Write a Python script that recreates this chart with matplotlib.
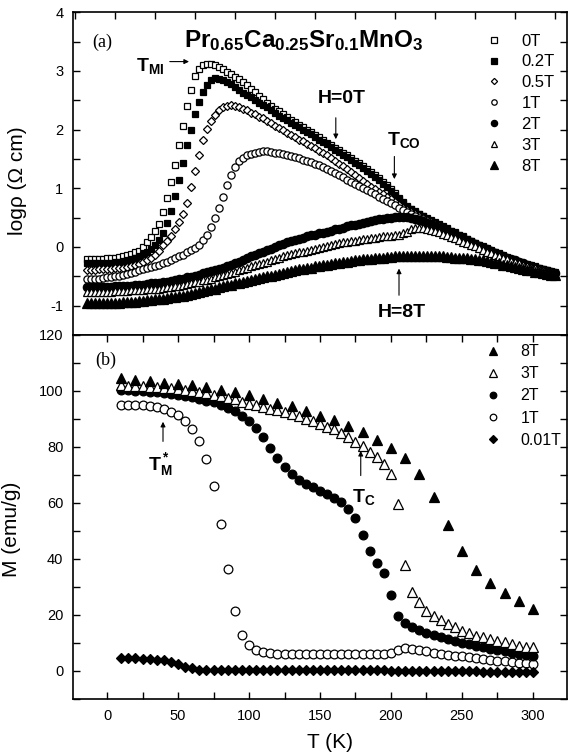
import numpy as np
import matplotlib
matplotlib.use('Agg')
import matplotlib.pyplot as plt
from matplotlib.ticker import MultipleLocator

plt.rcParams['font.family'] = ['Liberation Sans', 'DejaVu Sans']
plt.rcParams['mathtext.fontset'] = 'custom'
plt.rcParams['mathtext.rm'] = 'Liberation Sans'
plt.rcParams['mathtext.bf'] = 'Liberation Sans:bold'
plt.rcParams['mathtext.it'] = 'Liberation Sans:italic'
plt.rcParams['axes.unicode_minus'] = False

# ---- (a) resistivity, log rho vs T, sampled every 2.5 K from 7.5 K ----
t_top = np.arange(7.5, 300.1, 2.5)
r_0T = [-0.20, -0.20, -0.20, -0.20, -0.20, -0.19, -0.19, -0.18, -0.17, -0.16,
        -0.14, -0.12, -0.09, -0.06, 0.00, 0.09, 0.17, 0.27, 0.39, 0.59,
        0.83, 1.10, 1.40, 1.74, 2.07, 2.40, 2.68, 2.91, 3.04, 3.10,
        3.12, 3.12, 3.10, 3.06, 3.03, 2.99, 2.95, 2.90, 2.86, 2.81,
        2.76, 2.70, 2.64, 2.58, 2.52, 2.46, 2.41, 2.36, 2.31, 2.26,
        2.22, 2.17, 2.13, 2.08, 2.04, 2.00, 1.96, 1.91, 1.87, 1.82,
        1.78, 1.73, 1.69, 1.65, 1.60, 1.56, 1.52, 1.47, 1.43, 1.38,
        1.33, 1.28, 1.23, 1.17, 1.11, 1.05, 0.99, 0.92, 0.84, 0.77,
        0.70, 0.65, 0.61, 0.57, 0.53, 0.49, 0.46, 0.42, 0.39, 0.35,
        0.32, 0.28, 0.25, 0.21, 0.18, 0.14, 0.11, 0.07, 0.04, 0.01,
        -0.02, -0.05, -0.08, -0.11, -0.14, -0.17, -0.20, -0.22, -0.25, -0.27,
        -0.29, -0.31, -0.33, -0.35, -0.37, -0.39, -0.41, -0.43]
r_02T = [-0.28, -0.28, -0.28, -0.28, -0.28, -0.27, -0.27, -0.26, -0.25, -0.24,
         -0.23, -0.21, -0.19, -0.16, -0.12, -0.08, -0.03, 0.03, 0.12, 0.24,
         0.41, 0.62, 0.87, 1.15, 1.44, 1.73, 2.00, 2.26, 2.47, 2.64,
         2.76, 2.84, 2.88, 2.87, 2.84, 2.81, 2.77, 2.72, 2.68, 2.63,
         2.59, 2.55, 2.51, 2.46, 2.42, 2.38, 2.33, 2.29, 2.24, 2.20,
         2.16, 2.12, 2.08, 2.04, 2.00, 1.96, 1.92, 1.87, 1.83, 1.79,
         1.75, 1.70, 1.66, 1.62, 1.57, 1.53, 1.49, 1.44, 1.40, 1.35,
         1.30, 1.25, 1.20, 1.14, 1.08, 1.02, 0.96, 0.89, 0.82, 0.75,
         0.69, 0.64, 0.60, 0.56, 0.52, 0.48, 0.45, 0.41, 0.38, 0.34,
         0.31, 0.27, 0.24, 0.20, 0.17, 0.13, 0.10, 0.06, 0.03, 0.00,
         -0.03, -0.06, -0.09, -0.12, -0.15, -0.18, -0.21, -0.23, -0.26, -0.28,
         -0.30, -0.32, -0.34, -0.36, -0.38, -0.40, -0.42, -0.44]
r_05T = [-0.39, -0.39, -0.39, -0.38, -0.38, -0.37, -0.37, -0.36, -0.36, -0.35,
         -0.34, -0.32, -0.31, -0.29, -0.26, -0.22, -0.18, -0.13, -0.06, 0.03,
         0.10, 0.19, 0.30, 0.42, 0.57, 0.75, 1.02, 1.29, 1.57, 1.82,
         2.01, 2.15, 2.25, 2.33, 2.38, 2.41, 2.42, 2.41, 2.39, 2.36,
         2.33, 2.29, 2.26, 2.22, 2.19, 2.15, 2.11, 2.07, 2.03, 1.99,
         1.95, 1.91, 1.87, 1.83, 1.80, 1.76, 1.72, 1.68, 1.64, 1.60,
         1.56, 1.51, 1.47, 1.42, 1.38, 1.33, 1.28, 1.23, 1.18, 1.13,
         1.08, 1.03, 0.99, 0.94, 0.90, 0.85, 0.81, 0.76, 0.72, 0.67,
         0.63, 0.60, 0.57, 0.53, 0.50, 0.46, 0.43, 0.39, 0.36, 0.32,
         0.29, 0.25, 0.22, 0.18, 0.15, 0.11, 0.08, 0.05, 0.02, -0.01,
         -0.04, -0.07, -0.10, -0.13, -0.16, -0.19, -0.22, -0.24, -0.27, -0.29,
         -0.31, -0.33, -0.35, -0.37, -0.39, -0.41, -0.43, -0.44]
r_1T = [-0.55, -0.55, -0.55, -0.54, -0.53, -0.52, -0.51, -0.50, -0.49, -0.47,
        -0.46, -0.44, -0.42, -0.40, -0.38, -0.36, -0.34, -0.32, -0.30, -0.27,
        -0.25, -0.22, -0.19, -0.16, -0.13, -0.09, -0.05, -0.01, 0.04, 0.12,
        0.21, 0.34, 0.50, 0.67, 0.86, 1.06, 1.23, 1.37, 1.46, 1.52,
        1.56, 1.59, 1.61, 1.62, 1.63, 1.63, 1.62, 1.61, 1.60, 1.58,
        1.57, 1.55, 1.53, 1.51, 1.49, 1.47, 1.45, 1.42, 1.39, 1.36,
        1.33, 1.29, 1.26, 1.22, 1.19, 1.15, 1.11, 1.07, 1.04, 1.00,
        0.97, 0.93, 0.90, 0.86, 0.82, 0.78, 0.75, 0.71, 0.67, 0.63,
        0.60, 0.56, 0.53, 0.50, 0.47, 0.44, 0.40, 0.37, 0.34, 0.30,
        0.27, 0.24, 0.21, 0.17, 0.14, 0.11, 0.08, 0.04, 0.01, -0.02,
        -0.05, -0.08, -0.11, -0.14, -0.17, -0.19, -0.22, -0.24, -0.27, -0.29,
        -0.32, -0.34, -0.36, -0.38, -0.40, -0.41, -0.43, -0.45]
r_2T = [-0.69, -0.69, -0.69, -0.69, -0.69, -0.68, -0.68, -0.67, -0.67, -0.67,
        -0.66, -0.66, -0.65, -0.65, -0.64, -0.63, -0.62, -0.62, -0.61, -0.60,
        -0.59, -0.58, -0.57, -0.55, -0.54, -0.52, -0.51, -0.49, -0.47, -0.45,
        -0.43, -0.41, -0.39, -0.37, -0.35, -0.32, -0.30, -0.27, -0.25, -0.22,
        -0.19, -0.16, -0.13, -0.10, -0.08, -0.05, -0.03, 0.00, 0.03, 0.05,
        0.08, 0.10, 0.12, 0.14, 0.16, 0.18, 0.20, 0.21, 0.23, 0.24,
        0.26, 0.28, 0.30, 0.31, 0.33, 0.35, 0.37, 0.38, 0.40, 0.41,
        0.43, 0.44, 0.46, 0.47, 0.48, 0.49, 0.50, 0.51, 0.51, 0.51,
        0.51, 0.50, 0.48, 0.46, 0.44, 0.41, 0.39, 0.36, 0.33, 0.30,
        0.27, 0.24, 0.21, 0.17, 0.14, 0.11, 0.08, 0.05, 0.02, -0.01,
        -0.04, -0.07, -0.10, -0.13, -0.16, -0.18, -0.21, -0.23, -0.26, -0.28,
        -0.31, -0.33, -0.35, -0.37, -0.39, -0.41, -0.43, -0.45]
r_3T = [-0.76, -0.76, -0.76, -0.76, -0.76, -0.76, -0.76, -0.75, -0.75, -0.75,
        -0.75, -0.74, -0.74, -0.73, -0.73, -0.72, -0.72, -0.71, -0.71, -0.70,
        -0.69, -0.68, -0.67, -0.66, -0.65, -0.63, -0.62, -0.60, -0.59, -0.57,
        -0.56, -0.54, -0.52, -0.50, -0.48, -0.46, -0.44, -0.42, -0.40, -0.38,
        -0.36, -0.33, -0.31, -0.29, -0.27, -0.25, -0.22, -0.20, -0.18, -0.16,
        -0.14, -0.12, -0.11, -0.09, -0.08, -0.06, -0.05, -0.03, -0.02, 0.00,
        0.02, 0.03, 0.05, 0.06, 0.08, 0.09, 0.10, 0.11, 0.12, 0.13,
        0.14, 0.15, 0.16, 0.17, 0.18, 0.18, 0.19, 0.20, 0.21, 0.23,
        0.26, 0.30, 0.32, 0.33, 0.33, 0.31, 0.29, 0.27, 0.25, 0.22,
        0.20, 0.17, 0.15, 0.12, 0.09, 0.06, 0.04, 0.01, -0.02, -0.05,
        -0.08, -0.10, -0.13, -0.16, -0.19, -0.21, -0.24, -0.26, -0.28, -0.30,
        -0.32, -0.34, -0.36, -0.38, -0.40, -0.42, -0.44, -0.46]
r_8T = [-0.96, -0.96, -0.96, -0.96, -0.96, -0.95, -0.95, -0.95, -0.95, -0.94,
        -0.94, -0.93, -0.93, -0.92, -0.92, -0.91, -0.90, -0.89, -0.89, -0.88,
        -0.87, -0.86, -0.85, -0.84, -0.83, -0.81, -0.80, -0.78, -0.77, -0.75,
        -0.74, -0.72, -0.71, -0.69, -0.67, -0.65, -0.64, -0.62, -0.61, -0.59,
        -0.58, -0.56, -0.55, -0.53, -0.52, -0.50, -0.49, -0.47, -0.46, -0.44,
        -0.43, -0.41, -0.40, -0.38, -0.37, -0.36, -0.35, -0.33, -0.32, -0.31,
        -0.30, -0.29, -0.28, -0.27, -0.26, -0.25, -0.24, -0.23, -0.22, -0.21,
        -0.21, -0.20, -0.19, -0.18, -0.18, -0.17, -0.17, -0.16, -0.16, -0.155,
        -0.15, -0.15, -0.15, -0.15, -0.15, -0.15, -0.15, -0.155, -0.16, -0.16,
        -0.17, -0.17, -0.18, -0.18, -0.19, -0.19, -0.20, -0.21, -0.22, -0.23,
        -0.24, -0.25, -0.27, -0.28, -0.30, -0.31, -0.33, -0.34, -0.36, -0.37,
        -0.39, -0.40, -0.42, -0.43, -0.45, -0.46, -0.47, -0.48]

# ---- (b) magnetization vs T ----
t_8T = np.arange(10, 301, 10)
m_8T = [104.5, 104, 103.5, 103, 102.5, 102, 101.3, 100.5, 99.5, 98.5, 97.3, 95.8, 94.5, 93, 91.2,
        89.5, 87.5, 85.5, 82.5, 79.5, 76, 70.5, 62, 52, 43, 36, 31.5, 28, 25, 22]
t_m = np.arange(10, 301, 5)
m_3T = [102, 101.9, 101.8, 101.7, 101.6, 101.4, 101.2, 101, 100.7, 100.4, 100, 99.6, 99.2, 98.7,
        98.2, 97.6, 97, 96.2, 95.5, 94.9, 94.3, 93.7, 93.1, 92.4, 91.7, 90.9, 90, 89.2, 88.3, 87.3,
        86.3, 85.1, 83.6, 81.9, 80.3, 78.3, 76.4, 74, 70.5, 59.5, 37.7, 28.2, 24.6, 21.6, 19.8,
        18.2, 16.8, 15.6, 14.4, 13.5, 12.6, 12, 11.3, 10.8, 10.2, 9.6, 9.1, 8.7, 8.4]
m_2T = [100.5, 100.3, 100.1, 99.9, 99.7, 99.5, 99.2, 98.9, 98.6, 98.2, 97.8, 97.2, 96.6, 95.9, 95,
        94, 92.8, 91.2, 89.2, 86.8, 83.5, 79.5, 76, 72.8, 70.2, 68.2, 66.8, 65.6, 64.4, 63.2, 61.9,
        60.2, 58, 54.6, 48.5, 43, 38.5, 35, 27, 19.8, 17, 15.6, 14.6, 13.7, 12.9, 12.1, 11.4, 10.7,
        10.1, 9.5, 8.9, 8.4, 7.9, 7.4, 7, 6.6, 6.2, 5.8, 5.5]
m_1T = [95, 95, 95, 94.9, 94.7, 94.3, 93.7, 92.6, 91.3, 89.3, 86.6, 82.2, 75.8, 66, 52.4, 36.3,
        21.3, 12.8, 9.3, 7.5, 6.7, 6.4, 6.2, 6.1, 6, 6, 6, 6, 6, 6, 6, 6, 6, 6, 6, 6, 6, 6.1, 6.5,
        7.6, 8.3, 8, 7.5, 7, 6.6, 6.2, 5.8, 5.5, 5.2, 4.9, 4.6, 4.3, 4, 3.7, 3.4, 3.2, 3, 2.8, 2.6]
m_001T = [4.5, 4.5, 4.5, 4.4, 4.3, 4.1, 3.8, 3.2, 2.5, 1.5, 0.9, 0.5, 0.3, 0.2, 0.2, 0.2, 0.2, 0.2,
          0.2, 0.2, 0.2, 0.2, 0.2, 0.2, 0.2, 0.2, 0.2, 0.2, 0.2, 0.2, 0.2, 0.2, 0.2, 0.2, 0.2, 0.2,
          0.2, 0.2, 0.1, 0.1, 0.1, 0.1, 0.0, 0.0, 0.0, 0.0, 0.0, -0.1, -0.1, -0.1, -0.1, -0.2,
          -0.2, -0.2, -0.2, -0.3, -0.3, -0.3, -0.3]

fig = plt.figure(figsize=(5.69, 7.55), dpi=100)
ax1 = fig.add_axes([0.1283, 0.5563, 0.8682, 0.4274])
ax2 = fig.add_axes([0.1283, 0.0742, 0.8682, 0.4821])

mew = 0.9
ax1.plot(t_top, r_0T, 's', ms=5, mfc='white', mec='k', mew=mew, label='0T')
ax1.plot(t_top, r_02T, 's', ms=5, mfc='k', mec='k', mew=mew, label='0.2T')
ax1.plot(t_top, r_05T, 'D', ms=4.2, mfc='white', mec='k', mew=mew, label='0.5T')
ax1.plot(t_top, r_1T, 'o', ms=5.2, mfc='white', mec='k', mew=mew, label='1T')
ax1.plot(t_top, r_2T, 'o', ms=6, mfc='k', mec='k', mew=mew, label='2T')
ax1.plot(t_top, r_3T, '^', ms=6, mfc='white', mec='k', mew=mew, label='3T')
ax1.plot(t_top, r_8T, '^', ms=7, mfc='k', mec='k', mew=mew, label='8T')

ax1.set_xlim(-1.25, 307.5)
ax1.set_ylim(-1.5, 4)
ax1.xaxis.set_major_locator(MultipleLocator(50))
ax1.xaxis.set_minor_locator(MultipleLocator(25))
ax1.yaxis.set_major_locator(MultipleLocator(1))
ax1.yaxis.set_minor_locator(MultipleLocator(0.5))
ax1.tick_params(which='both', direction='in', top=True, bottom=False, right=True,
                labelbottom=False, labelsize=10.5, pad=7, length=5, width=1)
ax1.set_ylabel('log\u03c1 (\u03a9 cm)', fontsize=15)
ax1.yaxis.set_label_coords(-0.093, 0.479)
ax1.legend(loc='upper left', bbox_to_anchor=(0.835, 0.934), frameon=False, fontsize=12,
           handlelength=1.0, handletextpad=1.15, labelspacing=0.35, borderpad=0,
           borderaxespad=0, markerscale=0.75)

arrow = dict(arrowstyle='-|>', lw=0.8, color='k', mutation_scale=7)
ax1.text(10.6, 3.49, '(a)', family='Liberation Serif', fontsize=13, va='center')
ax1.text(143, 3.52, r'$\mathbf{Pr_{0.65}Ca_{0.25}Sr_{0.1}MnO_3}$', fontsize=17.5,
         ha='center', va='center')
ax1.annotate('', xy=(73, 3.16), xytext=(57.5, 3.16), arrowprops=arrow)
ax1.text(38, 3.08, r'$\mathbf{T_{MI}}$', fontsize=14, va='center')
ax1.annotate('', xy=(163, 1.79), xytext=(163, 2.25), arrowprops=arrow)
ax1.text(167, 2.53, 'H=0T', fontsize=14, fontweight='bold', ha='center', va='center')
ax1.annotate('', xy=(199.6, 1.11), xytext=(199.6, 1.59), arrowprops=arrow)
ax1.text(195, 1.82, r'$\mathbf{T_{CO}}$', fontsize=14, va='center')
ax1.annotate('', xy=(202.5, -0.32), xytext=(202.5, -0.87), arrowprops=arrow)
ax1.text(204.4, -1.11, 'H=8T', fontsize=14, fontweight='bold', ha='center', va='center')

# bottom panel
ax2.plot(t_8T, m_8T, '^', ms=7.5, mfc='k', mec='k', mew=mew, label='8T', zorder=6)
ax2.plot(t_m, m_3T, '^', ms=7.5, mfc='white', mec='k', mew=mew, label='3T', zorder=5)
ax2.plot(t_m, m_2T, 'o', ms=6.3, mfc='k', mec='k', mew=mew, label='2T', zorder=4)
ax2.plot(t_m, m_1T, 'o', ms=6.3, mfc='white', mec='k', mew=mew, label='1T', zorder=3)
ax2.plot(t_m, m_001T, 'D', ms=5.2, mfc='k', mec='k', mew=mew, label='0.01T', zorder=3)

ax2.set_xlim(-24, 324)
ax2.set_ylim(-10, 120)
ax2.xaxis.set_major_locator(MultipleLocator(50))
ax2.xaxis.set_minor_locator(MultipleLocator(25))
ax2.yaxis.set_major_locator(MultipleLocator(20))
ax2.yaxis.set_minor_locator(MultipleLocator(10))
ax2.tick_params(which='both', direction='in', top=True, right=True, labelsize=10.5, pad=7,
                length=5, width=1)
ax2.set_xlabel('T (K)', fontsize=15)
ax2.set_ylabel('M (emu/g)', fontsize=15)
ax2.yaxis.set_label_coords(-0.105, 0.466)
ax2.xaxis.set_label_coords(0.52, -0.094)
ax2.legend(loc='upper left', bbox_to_anchor=(0.835, 0.975), frameon=False, fontsize=11.5,
           handlelength=1.0, handletextpad=1.2, labelspacing=0.45, borderpad=0,
           borderaxespad=0, markerscale=0.75)

ax2.text(-8.5, 111, '(b)', family='Liberation Serif', fontsize=13, va='center')
ax2.annotate('', xy=(39.4, 90), xytext=(39.4, 81), arrowprops=arrow)
ax2.text(28.9, 73.8, r'$\mathbf{T_M^*}$', fontsize=14, va='center')
ax2.annotate('', xy=(178.7, 79.6), xytext=(178.7, 68.8), arrowprops=arrow)
ax2.text(172.5, 62, r'$\mathbf{T_C}$', fontsize=14, va='center')

for ax in (ax1, ax2):
    for s in ax.spines.values():
        s.set_linewidth(1.2)

fig.savefig('out.png', dpi=100)
